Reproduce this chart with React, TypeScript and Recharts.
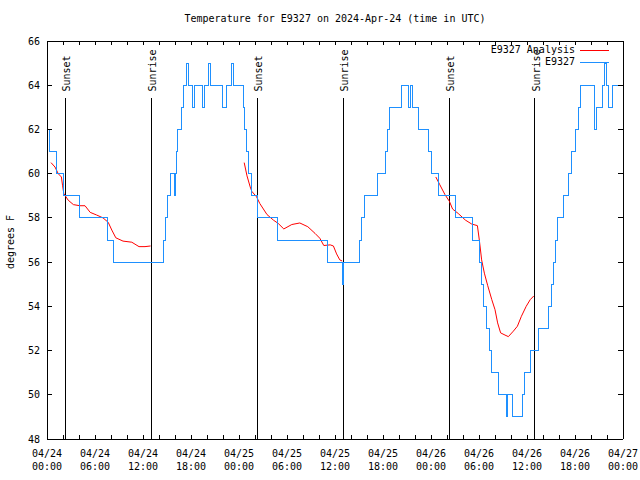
import { Legend, Line, LineChart, ReferenceLine, XAxis, YAxis } from 'recharts';

// Temperature for station E9327, 3 days from 2024-04-24 00:00 UTC.
// x = hours since 04/24 00:00, y = degrees F.

const FONT = '"DejaVu Sans Mono", "Liberation Mono", monospace';
const BLUE = '#1e90ff';
const RED = '#ff0000';

const xTicks = [
  0, 2, 4, 6, 8, 10, 12, 14, 16, 18, 20, 22, 24, 26, 28, 30, 32, 34, 36, 38, 40, 42, 44, 46, 48, 50, 52,
  54, 56, 58, 60, 62, 64, 66, 68, 70, 72,
];
const dateLabels = ['04/24', '04/24', '04/24', '04/24', '04/25', '04/25', '04/25', '04/25', '04/26', '04/26', '04/26', '04/26', '04/27'];
const timeLabels = ['00:00', '06:00', '12:00', '18:00', '00:00', '06:00', '12:00', '18:00', '00:00', '06:00', '12:00', '18:00', '00:00'];
const yTicks = [48, 50, 52, 54, 56, 58, 60, 62, 64, 66];

const sunsetHours = [2.3, 26.3, 50.3];
const sunriseHours = [13.05, 37.05, 60.96];

// observed temperature (whole degrees), value holds from each hour until the next
const obsHours = [
  0, 0.3, 1.15, 2.0, 4.1, 7.5, 8.3, 14.5, 14.75, 15.1, 15.4, 15.95, 16.05, 16.2, 16.35, 16.85, 17.1, 17.4,
  17.65, 18.15, 18.4, 19.4, 19.65, 20.2, 20.45, 21.9, 22.4, 23.1, 23.3, 24.5, 24.7, 24.95, 25.2, 25.6,
  26.35, 28.85, 35.0, 36.95, 37.1, 39.0, 39.3, 39.7, 41.3, 42.35, 42.55, 42.85, 44.25, 45.15, 45.4,
  45.65, 46.45, 47.7, 48.05, 48.95, 51.1, 53.2, 54.0, 54.25, 54.5, 54.95, 55.3, 55.6, 56.4, 57.4,
  57.55, 58.15, 59.4, 59.7, 60.45, 61.45, 62.7, 63.0, 63.3, 63.6, 63.8, 64.55, 65.2, 65.55, 66.1,
  66.4, 66.7, 68.45, 68.65, 69.45, 69.7, 69.95, 70.2, 70.65, 72,
];
const obsTemps = [
  62, 61, 60, 59, 58, 57, 56, 57, 58, 59, 60, 59, 60, 61, 62, 63, 64, 65,
  64, 63, 64, 63, 64, 65, 64, 63, 64, 65, 64, 63, 62, 61, 60, 59,
  58, 57, 56, 55, 56, 57, 58, 59, 60, 61, 62, 63, 64, 63, 64,
  63, 62, 61, 60, 59, 58, 57, 56, 55, 54, 53, 52, 51, 50, 49,
  50, 49, 50, 51, 52, 53, 54, 55, 56, 57, 58, 59, 60, 61, 62,
  63, 64, 62, 63, 64, 65, 64, 63, 64, 64,
];

// analysis, three evening-to-morning runs
const anaHours1 = [0.5, 1.0, 1.4, 1.8, 1.95, 2.1, 2.65, 3.3, 4.1, 4.75, 5.4, 6.2, 7.0, 7.65, 8.1, 8.6, 9.5, 10.6, 11.5, 12.25, 12.95];
const anaTemps1 = [60.5, 60.3, 60.0, 59.85, 59.45, 59.1, 58.8, 58.6, 58.55, 58.55, 58.25, 58.13, 58.0, 57.8, 57.45, 57.1, 56.95, 56.9, 56.7, 56.7, 56.73];
const anaHours2 = [24.65, 25.0, 25.4, 25.6, 26.2, 26.6, 27.5, 28.3, 28.9, 29.6, 30.6, 31.6, 32.6, 33.5, 34.1, 34.6, 35.4, 35.8, 36.2, 36.6, 36.9];
const anaTemps2 = [60.5, 59.9, 59.4, 59.2, 58.95, 58.65, 58.15, 57.9, 57.75, 57.5, 57.7, 57.77, 57.6, 57.3, 57.08, 56.75, 56.78, 56.73, 56.37, 56.1, 56.05];
const anaHours3 = [
  48.6, 49.1, 49.75, 50.3, 50.7, 51.4, 52.3, 53.1, 53.8, 54.04, 54.33, 54.67, 55.08, 55.6, 56.0, 56.33,
  56.7, 57.25, 57.67, 58.3, 58.8, 59.3, 59.9, 60.4, 60.85,
];
const anaTemps3 = [
  59.85, 59.5, 59.05, 58.75, 58.4, 58.2, 57.9, 57.72, 57.65, 57.0, 56.1, 55.5, 54.95, 54.3, 53.85, 53.25,
  52.8, 52.7, 52.63, 52.88, 53.1, 53.55, 54.0, 54.3, 54.47,
];

const toPoints = (hours: number[], temps: number[]) => hours.map((h, i) => ({ h, t: temps[i] }));

const obsData = toPoints(obsHours, obsTemps);
const anaData = [toPoints(anaHours1, anaTemps1), toPoints(anaHours2, anaTemps2), toPoints(anaHours3, anaTemps3)];

const textStyle = { fontFamily: FONT, fontSize: 10, fill: '#000' };
const frame = { stroke: '#000', shapeRendering: 'crispEdges' };

function BottomTick({ x, y, payload }: any) {
  const idx = payload.value / 6;
  const major = Number.isInteger(idx);
  return (
    <g>
      <line x1={x} x2={x} y1={y} y2={y - 4} stroke="#000" shapeRendering="crispEdges" />
      {major ? (
        <>
          <text x={x} y={y + 18} textAnchor="middle" style={textStyle}>
            {dateLabels[idx]}
          </text>
          <text x={x} y={y + 31} textAnchor="middle" style={textStyle}>
            {timeLabels[idx]}
          </text>
        </>
      ) : null}
    </g>
  );
}

function TopTick({ x, y }: any) {
  return <line x1={x} x2={x} y1={y} y2={y + 4} stroke="#000" shapeRendering="crispEdges" />;
}

function LeftTick({ x, y, payload }: any) {
  return (
    <g>
      <line x1={x} x2={x + 5} y1={y} y2={y} stroke="#000" shapeRendering="crispEdges" />
      <text x={x - 7} y={y + 3.5} textAnchor="end" style={textStyle}>
        {payload.value}
      </text>
    </g>
  );
}

function RightTick({ x, y }: any) {
  return <line x1={x} x2={x - 5} y1={y} y2={y} stroke="#000" shapeRendering="crispEdges" />;
}

function sunLabel(text: string) {
  return (props: any) => {
    const vb = props.viewBox || {};
    const lx = vb.x + 1.5;
    const ly = vb.y - 7;
    return (
      <text
        x={lx}
        y={ly}
        transform={`rotate(-90 ${lx} ${ly})`}
        textAnchor="start"
        dominantBaseline="central"
        style={textStyle}
      >
        {text}
      </text>
    );
  };
}

function LegendBox() {
  const rows = [
    { label: 'E9327 Analysis', color: RED },
    { label: 'E9327', color: BLUE },
  ];
  return (
    <div style={{ fontFamily: FONT, fontSize: 10 }}>
      {rows.map((r) => (
        <div key={r.label} style={{ display: 'flex', justifyContent: 'flex-end', alignItems: 'center', height: 12 }}>
          <span style={{ lineHeight: '12px', whiteSpace: 'pre' }}>{r.label}</span>
          <svg width={40} height={12} style={{ display: 'block' }}>
            <line x1={5} x2={34} y1={6.5} y2={6.5} stroke={r.color} shapeRendering="crispEdges" />
          </svg>
        </div>
      ))}
    </div>
  );
}

export default function App() {
  return (
    <div style={{ position: 'absolute', left: 0, top: 0, width: 640, height: 480, background: '#fff' }}>
      <div
        style={{
          position: 'absolute',
          left: 0,
          width: 670,
          top: 13,
          textAlign: 'center',
          fontFamily: FONT,
          fontSize: 10,
          lineHeight: '12px',
          whiteSpace: 'pre',
        }}
      >
        Temperature for E9327 on 2024-Apr-24 (time in UTC)
      </div>
      <div
        style={{
          position: 'absolute',
          left: 11,
          top: 242,
          transform: 'translate(-50%, -50%) rotate(-90deg)',
          fontFamily: FONT,
          fontSize: 10,
          lineHeight: '12px',
          whiteSpace: 'pre',
        }}
      >
        degrees F
      </div>
      <LineChart width={640} height={480} margin={{ top: 31, right: 7, bottom: 11, left: 7 }}>
        <XAxis
          dataKey="h"
          type="number"
          domain={[0, 72]}
          ticks={xTicks}
          interval={0}
          height={30}
          tickSize={0}
          tickMargin={0}
          tickLine={false}
          tick={<BottomTick />}
          axisLine={frame}
          allowDataOverflow
        />
        <XAxis
          xAxisId="top"
          orientation="top"
          dataKey="h"
          type="number"
          domain={[0, 72]}
          ticks={xTicks}
          interval={0}
          height={10}
          tickSize={0}
          tickMargin={0}
          tickLine={false}
          tick={<TopTick />}
          axisLine={frame}
          allowDataOverflow
        />
        <YAxis
          type="number"
          domain={[48, 66]}
          ticks={yTicks}
          interval={0}
          width={40}
          tickSize={0}
          tickMargin={0}
          tickLine={false}
          tick={<LeftTick />}
          axisLine={frame}
          allowDataOverflow
        />
        <YAxis
          yAxisId="right"
          orientation="right"
          type="number"
          domain={[48, 66]}
          ticks={yTicks}
          interval={0}
          width={10}
          tickSize={0}
          tickMargin={0}
          tickLine={false}
          tick={<RightTick />}
          axisLine={frame}
          allowDataOverflow
        />
        {sunsetHours.map((h) => (
          <ReferenceLine
            key={`ss${h}`}
            segment={[
              { x: h, y: 63.4 },
              { x: h, y: 48 },
            ]}
            stroke="#000"
            shapeRendering="crispEdges"
            label={sunLabel('Sunset')}
          />
        ))}
        {sunriseHours.map((h) => (
          <ReferenceLine
            key={`sr${h}`}
            segment={[
              { x: h, y: 63.4 },
              { x: h, y: 48 },
            ]}
            stroke="#000"
            shapeRendering="crispEdges"
            label={sunLabel('Sunrise')}
          />
        ))}
        {anaData.map((d, i) => (
          <Line
            key={`ana${i}`}
            data={d}
            dataKey="t"
            type="linear"
            stroke={RED}
            strokeWidth={1}
            dot={false}
            isAnimationActive={false}
            name="E9327 Analysis"
            legendType="none"
          />
        ))}
        <Line
          data={obsData}
          dataKey="t"
          type="stepAfter"
          stroke={BLUE}
          strokeWidth={1}
          dot={false}
          isAnimationActive={false}
          name="E9327"
          style={{ shapeRendering: 'crispEdges' }}
        />
        <Legend
          layout="vertical"
          align="center"
          verticalAlign="middle"
          wrapperStyle={{ left: 440, top: 44, width: 175 }}
          content={() => <LegendBox />}
        />
      </LineChart>
    </div>
  );
}
